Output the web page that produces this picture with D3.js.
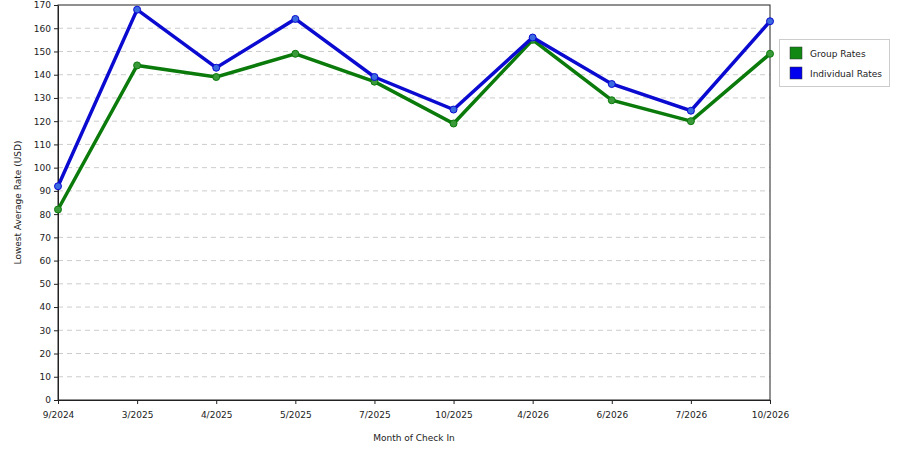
<!DOCTYPE html><html><head><script src="https://d3js.org/d3.v7.min.js"></script>
<style>body{margin:0;background:#fff}text{font-family:"DejaVu Sans",sans-serif;fill:#222}</style></head><body>
<svg id="c" width="900" height="450"></svg>
<script>
const categories=["9/2024","3/2025","4/2025","5/2025","7/2025","10/2025","4/2026","6/2026","7/2026","10/2026"];
const groupRates=[82,144,139,149,137,119,155,129,120,149];
const individualRates=[92,168,143,164,139,125,156,136,124.5,163];
const yTicks=d3.range(0,171,10);
const svg=d3.select("#c");
const L=58,R=770,T=5,B=400;
const x=d3.scalePoint().domain(categories).range([L,R]);
const y=d3.scaleLinear().domain([0,170]).range([B,T]);
svg.append("g").selectAll("line").data(yTicks.filter(d=>d>0&&d<170)).join("line")
 .attr("x1",L).attr("x2",R).attr("y1",d=>y(d)).attr("y2",d=>y(d))
 .attr("stroke","#ccc").attr("stroke-dasharray","5,4");
svg.append("rect").attr("x",L).attr("y",T).attr("width",R-L).attr("height",B-T).attr("fill","none").attr("stroke","#222");
const ya=svg.append("g").attr("transform",`translate(${L},0)`).call(d3.axisLeft(y).tickValues(yTicks).tickSize(4).tickSizeOuter(0));
const xa=svg.append("g").attr("transform",`translate(0,${B})`).call(d3.axisBottom(x).tickSize(4).tickSizeOuter(0));
[ya,xa].forEach(a=>{a.selectAll("text").style("font-size","9px").attr("fill","#222");a.selectAll("line,path").attr("stroke","#222");});
xa.selectAll("text").attr("dy","1.2em");
svg.append("text").attr("x",(L+R)/2).attr("y",441).attr("text-anchor","middle").style("font-size","9px").text("Month of Check In");
svg.append("text").attr("transform",`translate(21,${(T+B)/2}) rotate(-90)`).attr("text-anchor","middle").style("font-size","9px").text("Lowest Average Rate (USD)");
const series=[{name:"Group Rates",vals:groupRates,c:"#0a7a0a",m:"#3a9a3a"},{name:"Individual Rates",vals:individualRates,c:"#0a0ad0",m:"#3a6ae0"}];
const line=d3.line().x((d,i)=>x(categories[i])).y(d=>y(d));
series.forEach(s=>{
 svg.append("path").datum(s.vals).attr("d",line).attr("fill","none").attr("stroke",s.c).attr("stroke-width",3.5);
 svg.append("g").selectAll("circle").data(s.vals).join("circle").attr("cx",(d,i)=>x(categories[i])).attr("cy",d=>y(d)).attr("r",3.5).attr("fill",s.m).attr("stroke",s.c).attr("stroke-width",1);
});
const lg=svg.append("g");
lg.append("rect").attr("x",779.5).attr("y",39.5).attr("width",110).attr("height",47).attr("fill","#fff").attr("stroke","#ccc");
series.forEach((s,i)=>{
 lg.append("rect").attr("x",790).attr("y",47+i*20).attr("width",12).attr("height",12).attr("fill",s.c==="#0a7a0a"?"#118811":"#0000ee").attr("stroke","#333").attr("stroke-width",0.5);
 lg.append("text").attr("x",810).attr("y",57+i*20).style("font-size","9px").text(s.name);
});
</script></body></html>
